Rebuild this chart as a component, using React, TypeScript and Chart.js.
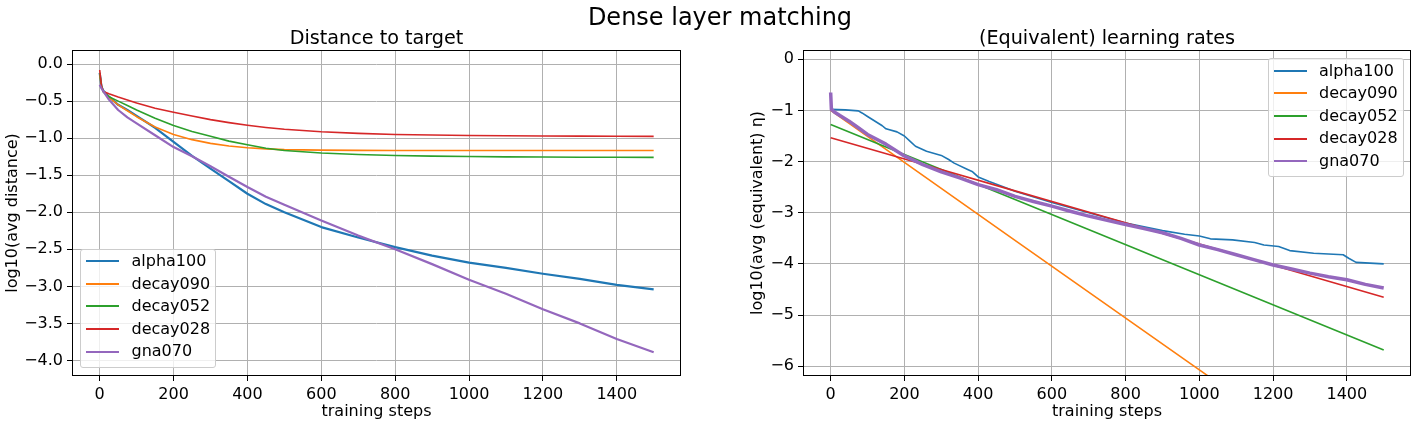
import React, { useEffect, useRef } from "react";
import { Chart, registerables } from "chart.js";

Chart.register(...registerables);

const FONT = "'DejaVu Sans', sans-serif";

// ---------------- data ----------------
const SERIES_NAMES = ["alpha100", "decay090", "decay052", "decay028", "gna070"];
const COLORS = ["#1f77b4", "#ff7f0e", "#2ca02c", "#d62728", "#9467bd"];

const X_TICKS = [0, 200, 400, 600, 800, 1000, 1200, 1400];
const LEFT_Y_TICKS = [-4.0, -3.5, -3.0, -2.5, -2.0, -1.5, -1.0, -0.5, 0.0];
const RIGHT_Y_TICKS = [-6, -5, -4, -3, -2, -1, 0];

// Left panel: log10(avg distance)
const LEFT_STEPS = [0, 5, 10, 25, 50, 75, 100, 150, 200, 250, 300, 350, 400, 450, 500, 600, 700, 800, 900, 1000, 1100, 1200, 1300, 1400, 1500];
const L_ALPHA100 = [-0.12, -0.31, -0.36, -0.44, -0.55, -0.62, -0.7, -0.86, -1.05, -1.24, -1.41, -1.58, -1.75, -1.89, -2.0, -2.2, -2.34, -2.47, -2.585, -2.68, -2.75, -2.83, -2.9, -2.98, -3.04];
const L_DECAY090 = [-0.14, -0.31, -0.37, -0.45, -0.55, -0.63, -0.71, -0.85, -0.95, -1.02, -1.07, -1.105, -1.13, -1.145, -1.155, -1.162, -1.165, -1.166, -1.166, -1.166, -1.166, -1.166, -1.166, -1.166, -1.166];
const L_DECAY052 = [-0.12, -0.3, -0.38, -0.44, -0.5, -0.56, -0.62, -0.73, -0.83, -0.91, -0.975, -1.04, -1.09, -1.135, -1.167, -1.2, -1.22, -1.234, -1.243, -1.248, -1.252, -1.255, -1.257, -1.258, -1.259];
const L_DECAY028 = [-0.08, -0.3, -0.37, -0.4, -0.445, -0.485, -0.526, -0.595, -0.65, -0.7, -0.75, -0.79, -0.825, -0.855, -0.88, -0.914, -0.935, -0.95, -0.958, -0.964, -0.968, -0.971, -0.973, -0.975, -0.976];
const L_GNA070 = [-0.28, -0.33, -0.37, -0.48, -0.62, -0.72, -0.8, -0.96, -1.12, -1.245, -1.38, -1.52, -1.66, -1.79, -1.9, -2.11, -2.315, -2.5, -2.7, -2.91, -3.1, -3.31, -3.5, -3.71, -3.89];

// Right panel: log10(avg (equivalent) eta)
const R_ALPHA100_STEPS = [0, 40, 75, 85, 100, 140, 150, 180, 200, 215, 230, 260, 300, 320, 335, 370, 385, 400, 430, 500, 600, 700, 800, 900, 960, 1000, 1030, 1090, 1150, 1175, 1215, 1245, 1310, 1390, 1405, 1425, 1500];
const R_ALPHA100 = [-0.98, -0.99, -1.01, -1.05, -1.12, -1.3, -1.36, -1.42, -1.5, -1.6, -1.7, -1.8, -1.88, -1.96, -2.03, -2.15, -2.2, -2.3, -2.39, -2.58, -2.8, -3.0, -3.2, -3.35, -3.42, -3.455, -3.51, -3.53, -3.58, -3.63, -3.66, -3.74, -3.79, -3.82, -3.89, -3.97, -4.0];
const R_DECAY090_STEPS = [0, 500, 1000, 1500];
const R_DECAY090 = [-1.0, -3.54, -6.07, -8.61];
const R_DECAY052_STEPS = [0, 500, 1000, 1500];
const R_DECAY052 = [-1.274, -2.74, -4.21, -5.68];
const R_DECAY028_STEPS = [0, 250, 500, 750, 1000, 1250, 1500];
const R_DECAY028 = [-1.534, -2.053, -2.573, -3.092, -3.611, -4.13, -4.65];
const R_GNA070_STEPS = [0, 2, 10, 25, 50, 75, 100, 150, 200, 250, 300, 350, 400, 450, 500, 550, 600, 650, 700, 750, 800, 850, 900, 950, 1000, 1050, 1100, 1150, 1200, 1250, 1300, 1350, 1400, 1450, 1500];
const R_GNA070 = [-0.65, -0.98, -1.03, -1.1, -1.21, -1.34, -1.47, -1.66, -1.89, -2.06, -2.2, -2.32, -2.45, -2.55, -2.68, -2.78, -2.87, -2.97, -3.065, -3.15, -3.23, -3.31, -3.39, -3.5, -3.63, -3.72, -3.82, -3.92, -4.02, -4.1, -4.18, -4.25, -4.31, -4.4, -4.47];

// ---------------- helpers ----------------
const pts = (xs: number[], ys: number[]) => xs.map((x, i) => ({ x, y: ys[i] }));
const minus = (s: string) => s.replace("-", "\u2212");

const framePlugin = {
  id: "frame",
  afterDraw(chart: any) {
    const { ctx, chartArea } = chart;
    const l = Math.round(chartArea.left) + 0.5;
    const t = Math.round(chartArea.top) + 0.5;
    const r = Math.round(chartArea.right) - 0.5;
    const b = Math.round(chartArea.bottom) - 0.5;
    ctx.save();
    ctx.strokeStyle = "#000";
    ctx.lineWidth = 1;
    ctx.strokeRect(l, t, r - l, b - t);
    ctx.restore();
  },
};

type PanelCfg = {
  series: { x: number[]; y: number[]; width: number }[];
  yMin: number;
  yMax: number;
  yTicks: number[];
  yFmt: (v: number) => string;
  yLabel: string;
  yAxisWidth: number;
  yTitlePad: number;
  padRight: number;
};

function makeChart(canvas: HTMLCanvasElement, cfg: PanelCfg) {
  const datasets = cfg.series.map((s, i) => ({
    label: SERIES_NAMES[i],
    data: pts(s.x, s.y),
    borderColor: COLORS[i],
    backgroundColor: COLORS[i],
    borderWidth: s.width,
    pointRadius: 0,
    tension: 0,
    fill: false,
    borderJoinStyle: "round" as const,
    order: 4 - i,
  }));
  const tickFont = { family: FONT, size: 16 };
  return new Chart(canvas, {
    type: "line",
    data: { datasets },
    options: {
      animation: false,
      responsive: false,
      devicePixelRatio: 1,
      layout: { padding: { left: 0, right: cfg.padRight, top: 50, bottom: 0 } },
      plugins: {
        legend: { display: false },
        tooltip: { enabled: false },
        title: { display: false },
      },
      scales: {
        x: {
          type: "linear",
          bounds: "data",
          min: -75,
          max: 1574,
          afterBuildTicks: (s: any) => {
            s.ticks = X_TICKS.map((v) => ({ value: v }));
          },
          afterFit: (s: any) => {
            s.height = 48;
          },
          grid: { color: "#b0b0b0", lineWidth: 1, drawTicks: true, tickLength: 5, tickColor: "#000", tickWidth: 1 },
          border: { display: false },
          ticks: {
            color: "#000",
            font: tickFont,
            padding: 4,
            maxRotation: 0,
            autoSkip: false,
            callback: (v: any) => String(v),
          },
          title: {
            display: true,
            text: "training steps",
            color: "#000",
            font: { family: FONT, size: 16 },
            padding: { top: 0, bottom: 3 },
          },
        },
        y: {
          type: "linear",
          bounds: "data",
          min: cfg.yMin,
          max: cfg.yMax,
          afterBuildTicks: (s: any) => {
            s.ticks = cfg.yTicks.map((v) => ({ value: v }));
          },
          afterFit: (s: any) => {
            s.width = cfg.yAxisWidth;
          },
          grid: { color: "#b0b0b0", lineWidth: 1, drawTicks: true, tickLength: 5, tickColor: "#000", tickWidth: 1 },
          border: { display: false },
          ticks: {
            color: "#000",
            font: tickFont,
            padding: 4,
            autoSkip: false,
            callback: (v: any) => cfg.yFmt(Number(v)),
          },
          title: {
            display: true,
            text: cfg.yLabel,
            color: "#000",
            font: { family: FONT, size: 16 },
            padding: { top: cfg.yTitlePad, bottom: 0 },
          },
        },
      },
    } as any,
    plugins: [framePlugin],
  });
}

function Legend({ left, top }: { left: number; top: number }) {
  return (
    <div
      style={{
        position: "absolute",
        left,
        top,
        width: 136,
        height: 119,
        boxSizing: "border-box",
        border: "1px solid #cccccc",
        borderRadius: 3,
        background: "rgba(255,255,255,0.8)",
      }}
    >
      {SERIES_NAMES.map((n, i) => (
        <div
          key={n}
          style={{
            position: "absolute",
            left: 0,
            top: 0.5 + i * 22.6,
            height: 22.6,
            display: "flex",
            alignItems: "center",
          }}
        >
          <div style={{ marginLeft: 5, width: 33, height: 2, background: COLORS[i] }} />
          <span
            style={{
              marginLeft: 12.5,
              fontFamily: FONT,
              fontSize: 16,
              lineHeight: "22.6px",
              color: "#000",
              whiteSpace: "nowrap",
            }}
          >
            {n}
          </span>
        </div>
      ))}
    </div>
  );
}

export default function App() {
  const leftRef = useRef<HTMLCanvasElement>(null);
  const rightRef = useRef<HTMLCanvasElement>(null);

  useEffect(() => {
    const c1 = makeChart(leftRef.current!, {
      series: [
        { x: LEFT_STEPS, y: L_ALPHA100, width: 2.2 },
        { x: LEFT_STEPS, y: L_DECAY090, width: 1.6 },
        { x: LEFT_STEPS, y: L_DECAY052, width: 1.6 },
        { x: LEFT_STEPS, y: L_DECAY028, width: 1.6 },
        { x: LEFT_STEPS, y: L_GNA070, width: 2.2 },
      ],
      yMin: -4.21,
      yMax: 0.19,
      yTicks: LEFT_Y_TICKS,
      yFmt: (v) => minus(v.toFixed(1)),
      yLabel: "log10(avg distance)",
      yAxisWidth: 72,
      yTitlePad: 3.5,
      padRight: 28,
    });
    const c2 = makeChart(rightRef.current!, {
      series: [
        { x: R_ALPHA100_STEPS, y: R_ALPHA100, width: 1.6 },
        { x: R_DECAY090_STEPS, y: R_DECAY090, width: 1.6 },
        { x: R_DECAY052_STEPS, y: R_DECAY052, width: 1.6 },
        { x: R_DECAY028_STEPS, y: R_DECAY028, width: 1.6 },
        { x: R_GNA070_STEPS, y: R_GNA070, width: 3.5 },
      ],
      yMin: -6.19,
      yMax: 0.18,
      yTicks: RIGHT_Y_TICKS,
      yFmt: (v) => minus(String(Math.round(v))),
      yLabel: "log10(avg (equivalent) \u03b7)",
      yAxisWidth: 94,
      yTitlePad: 39,
      padRight: 7,
    });
    return () => {
      c1.destroy();
      c2.destroy();
    };
  }, []);

  return (
    <div style={{ position: "absolute", left: 0, top: 0, width: 1418, height: 424, background: "#fff", overflow: "hidden" }}>
      <canvas ref={leftRef} width={709} height={424} style={{ position: "absolute", left: 0, top: 0 }} />
      <canvas ref={rightRef} width={709} height={424} style={{ position: "absolute", left: 709, top: 0 }} />
      <div
        style={{
          position: "absolute",
          left: 0,
          width: 1440,
          top: 3,
          textAlign: "center",
          fontFamily: FONT,
          fontSize: 24,
          lineHeight: "28px",
          color: "#000",
        }}
      >
        Dense layer matching
      </div>
      <div
        style={{
          position: "absolute",
          left: 76.5,
          width: 600,
          top: 26,
          textAlign: "center",
          fontFamily: FONT,
          fontSize: 19.2,
          lineHeight: "23px",
          color: "#000",
        }}
      >
        Distance to target
      </div>
      <div
        style={{
          position: "absolute",
          left: 807,
          width: 600,
          top: 26,
          textAlign: "center",
          fontFamily: FONT,
          fontSize: 19.2,
          lineHeight: "23px",
          color: "#000",
        }}
      >
        (Equivalent) learning rates
      </div>
      <Legend left={80} top={248.5} />
      <Legend left={1267.5} top={58} />
    </div>
  );
}
